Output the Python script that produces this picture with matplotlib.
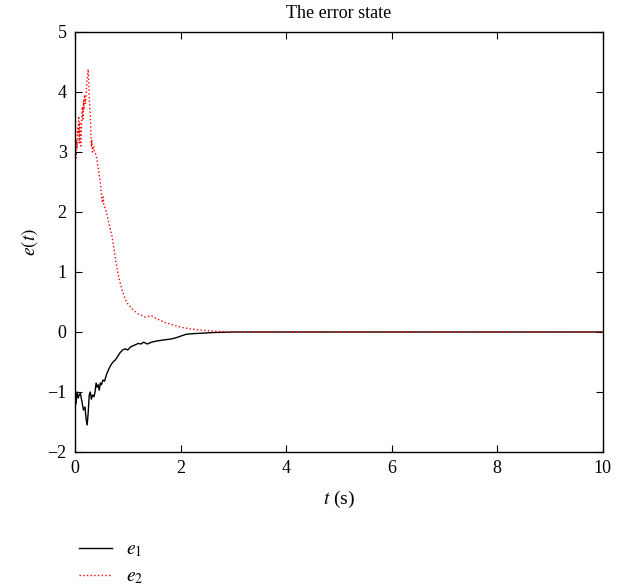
import matplotlib
matplotlib.use("Agg")
import matplotlib.pyplot as plt

# Data
t_e1 = [0.00, 0.02, 0.04, 0.06, 0.08, 0.10, 0.13, 0.16, 0.19, 0.21, 0.23, 0.25,
        0.27, 0.29, 0.31, 0.33, 0.36, 0.38, 0.40, 0.42, 0.44, 0.46, 0.48, 0.50,
        0.53, 0.56, 0.60, 0.64, 0.68, 0.72, 0.76, 0.80, 0.85, 0.90, 0.95, 1.00,
        1.05, 1.10, 1.20, 1.25, 1.30, 1.37, 1.45, 1.55, 1.70, 1.80, 1.90, 2.00,
        2.10, 2.20, 2.40, 2.60, 3.00, 10.0]
e1 = [-0.90, -1.20, -1.00, -1.10, -1.05, -1.02, -1.15, -1.30, -1.25, -1.45, -1.55, -1.35,
      -1.05, -1.00, -1.12, -1.05, -1.08, -1.00, -0.85, -0.92, -0.88, -0.97, -0.85, -0.88,
      -0.80, -0.82, -0.70, -0.62, -0.55, -0.50, -0.47, -0.42, -0.35, -0.30, -0.28, -0.30,
      -0.25, -0.23, -0.19, -0.20, -0.17, -0.20, -0.17, -0.15, -0.13, -0.12, -0.10, -0.07,
      -0.04, -0.03, -0.02, -0.01, 0.0, 0.0]

t_e2 = [0.00, 0.01, 0.02, 0.03, 0.04, 0.05, 0.06, 0.07, 0.08, 0.09, 0.10, 0.11,
        0.12, 0.13, 0.14, 0.15, 0.16, 0.17, 0.18, 0.20, 0.22, 0.24, 0.25, 0.26,
        0.27, 0.28, 0.29, 0.30, 0.31, 0.32, 0.33, 0.35, 0.37, 0.40, 0.43, 0.46,
        0.48, 0.50, 0.52, 0.53, 0.55, 0.58, 0.62, 0.66, 0.70, 0.74, 0.78, 0.82,
        0.86, 0.90, 0.95, 1.00, 1.10, 1.20, 1.33, 1.45, 1.55, 1.70, 1.85, 2.00,
        2.20, 2.40, 2.70, 3.00, 10.0]
e2 = [2.85, 3.00, 2.90, 3.20, 3.05, 3.40, 3.30, 3.60, 3.15, 3.50, 3.25, 3.10,
      3.30, 3.60, 3.75, 3.55, 3.85, 3.70, 3.95, 3.80, 4.10, 4.30, 4.38, 4.20,
      3.90, 3.75, 3.60, 3.35, 3.10, 3.20, 3.00, 3.10, 3.00, 2.95, 2.80, 2.60,
      2.50, 2.30, 2.15, 2.25, 2.10, 2.05, 1.90, 1.75, 1.60, 1.38, 1.15, 0.95,
      0.80, 0.68, 0.55, 0.47, 0.37, 0.30, 0.25, 0.27, 0.22, 0.16, 0.12, 0.08,
      0.05, 0.03, 0.01, 0.0, 0.0]

plt.rcParams['font.family'] = ['Liberation Serif', 'DejaVu Serif']
plt.rcParams['mathtext.fontset'] = 'stix'

fig = plt.figure(figsize=(6.28, 5.88), dpi=100)
ax = fig.add_axes([0.1194, 0.2313, 0.8406, 0.7143])

line1, = ax.plot(t_e1, e1, color='black', lw=1.0)
line2, = ax.plot(t_e2, e2, color='red', lw=1.0, linestyle=':')

ax.set_xlim(0, 10)
ax.set_ylim(-2, 5)
ax.set_xticks([0, 2, 4, 6, 8, 10])
ax.set_yticks(range(-2, 6))
ax.yaxis.set_major_formatter(plt.FuncFormatter(lambda v, p: f'{v:.0f}'.replace('-', '\u2212')))
ax.tick_params(direction='in', top=True, right=True, labelsize=13, length=5, pad=6)
for s in ax.spines.values():
    s.set_linewidth(1.0)

ax.set_title('The error state', fontsize=13, pad=10)
ax.set_xlabel('$t$ (s)', fontsize=14, labelpad=8)
ax.set_ylabel('$e(t)$', fontsize=14, labelpad=5)

fig.legend([line1, line2], ['$e_1$', '$e_2$'], loc='upper left',
           bbox_to_anchor=(0.098, 0.11), frameon=False, fontsize=14,
           handlelength=1.7, handletextpad=0.7, labelspacing=0.45)

fig.savefig('out.png', dpi=100)
